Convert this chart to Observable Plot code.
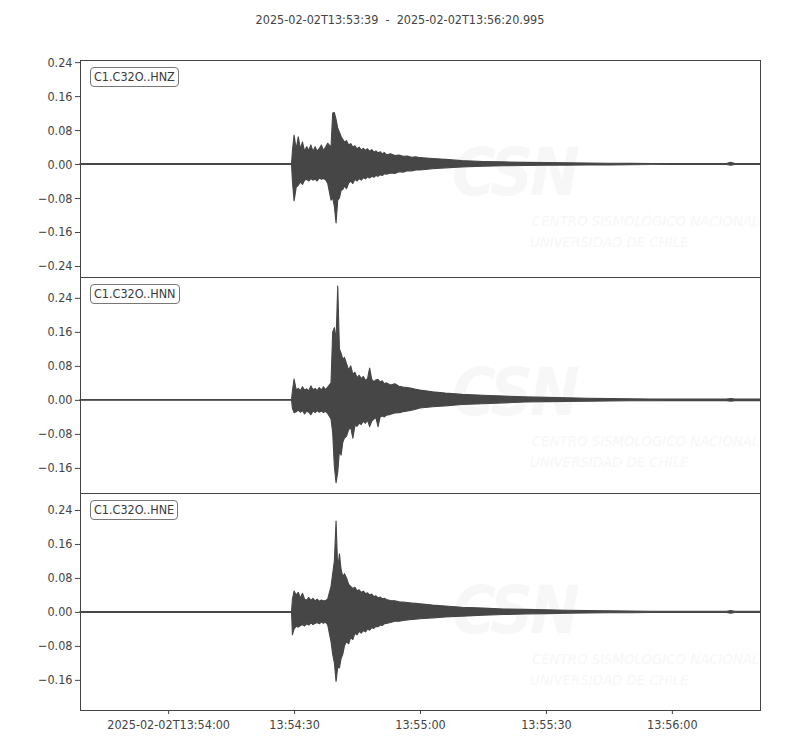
<!DOCTYPE html>
<html>
<head>
<meta charset="utf-8">
<script src="https://cdn.jsdelivr.net/npm/d3@7"></script>
<script src="https://cdn.jsdelivr.net/npm/@observablehq/plot@0.6"></script>
<style>
  html, body { margin: 0; padding: 0; background: white; }
  #wrap { position: relative; width: 800px; height: 750px; overflow: hidden; font-family: "DejaVu Sans Condensed", "DejaVu Sans", sans-serif; }
  #title { position: absolute; top: 12px; left: 0; width: 800px; text-align: center; font-size: 12.5px; color: #444; white-space: pre; }
  .panel { position: absolute; left: 0; z-index: 1; overflow: visible; }
  .label { position: absolute; left: 90px; z-index: 2; font-size: 12.5px; color: #3a3a3a; border: 1px solid #777; border-radius: 4px; padding: 1px 3px 1px 3px; background: white; line-height: 16px; }
  .wm { position: absolute; z-index: 0; color: #f7f7f7; font-style: italic; white-space: nowrap; }
  .wm-csn { font-size: 66px; font-weight: bold; letter-spacing: -3px; left: 452px; }
  .wm-l1 { font-size: 14.8px; left: 532px; }
  .wm-l2 { font-size: 14.8px; left: 530px; }
</style>
</head>
<body>
<div id="wrap">
  <div id="title">2025-02-02T13:53:39  -  2025-02-02T13:56:20.995</div>
</div>
<script>
const startTime = "2025-02-02T13:53:39Z";
const endTime = "2025-02-02T13:56:20.995Z";
const refTime = "2025-02-02T13:54:00Z";
const channels = ["C1.C32O..HNZ", "C1.C32O..HNN", "C1.C32O..HNE"];

// seconds relative to 2025-02-02T13:54:00 UTC
const times = [-21, 29.4, 29.6, 30.0, 30.5, 31.0, 31.5, 32.0, 32.5, 33.0,
  33.5, 34.0, 34.5, 35.0, 35.5, 36.0, 36.5, 37.0, 37.5, 38.0,
  38.8, 39.2, 39.6, 40.0, 40.4, 40.8, 41.2, 41.6, 42.0, 42.5,
  43.0, 43.5, 44.0, 44.5, 45.0, 45.5, 46.0, 46.5, 47.0, 47.5,
  48.0, 48.5, 49.0, 49.5, 50.0, 50.5, 51.0, 51.5, 52.0, 53.0,
  54.0, 55.0, 56.0, 57.0, 58.0, 59.0, 60.0, 63.0, 66.0, 70.0,
  75.0, 80.0, 85.0, 90.0, 95.0, 100.0, 105.0, 110.0, 115.0, 120.0,
  125.0, 130.0, 133.0, 134.0, 135.0, 140.0, 140.995];

// Envelopes (max / min per time) of each trace
const hnzUp = [0.001, 0.001, 0.030, 0.068, 0.035, 0.064, 0.036, 0.052, 0.030, 0.041,
  0.032, 0.045, 0.030, 0.041, 0.031, 0.036, 0.045, 0.032, 0.040, 0.049,
  0.040, 0.120, 0.121, 0.105, 0.085, 0.075, 0.065, 0.058, 0.052, 0.055,
  0.045, 0.048, 0.040, 0.043, 0.036, 0.040, 0.033, 0.037, 0.032, 0.036,
  0.030, 0.034, 0.028, 0.031, 0.026, 0.029, 0.024, 0.027, 0.022, 0.024,
  0.020, 0.021, 0.018, 0.019, 0.016, 0.017, 0.015, 0.013, 0.011, 0.008,
  0.006, 0.005, 0.004, 0.0035, 0.003, 0.0025, 0.002, 0.0015, 0.0012, 0.001,
  0.001, 0.001, 0.001, 0.004, 0.001, 0.001, 0.001];
const hnzLo = [-0.001, -0.001, -0.040, -0.087, -0.055, -0.050, -0.042, -0.048, -0.038, -0.036,
  -0.040, -0.034, -0.038, -0.035, -0.040, -0.033, -0.036, -0.034, -0.037, -0.045,
  -0.085, -0.080, -0.100, -0.139, -0.085, -0.080, -0.062, -0.060, -0.052, -0.058,
  -0.045, -0.040, -0.046, -0.036, -0.040, -0.034, -0.038, -0.032, -0.035, -0.030,
  -0.033, -0.029, -0.031, -0.027, -0.029, -0.025, -0.027, -0.023, -0.024, -0.021,
  -0.022, -0.018, -0.019, -0.016, -0.016, -0.014, -0.014, -0.011, -0.009, -0.007,
  -0.005, -0.004, -0.0035, -0.003, -0.0025, -0.002, -0.002, -0.0015, -0.0012, -0.001,
  -0.001, -0.001, -0.001, -0.003, -0.001, -0.001, -0.001];

const hnnUp = [0.001, 0.001, 0.020, 0.049, 0.024, 0.027, 0.022, 0.031, 0.023, 0.026,
  0.021, 0.033, 0.024, 0.027, 0.022, 0.029, 0.023, 0.031, 0.024, 0.030,
  0.040, 0.160, 0.170, 0.140, 0.268, 0.120, 0.110, 0.095, 0.100, 0.085,
  0.070, 0.080, 0.060, 0.065, 0.052, 0.058, 0.050, 0.055, 0.046, 0.050,
  0.075, 0.048, 0.043, 0.047, 0.048, 0.042, 0.045, 0.038, 0.040, 0.035,
  0.038, 0.032, 0.030, 0.029, 0.027, 0.025, 0.023, 0.019, 0.016, 0.013,
  0.011, 0.009, 0.007, 0.006, 0.005, 0.004, 0.003, 0.0025, 0.002, 0.0018,
  0.0018, 0.0018, 0.0018, 0.003, 0.0018, 0.0018, 0.0018];
const hnnLo = [-0.001, -0.001, -0.020, -0.030, -0.028, -0.024, -0.029, -0.025, -0.033, -0.026,
  -0.029, -0.035, -0.026, -0.030, -0.025, -0.029, -0.026, -0.030, -0.027, -0.032,
  -0.045, -0.078, -0.157, -0.195, -0.170, -0.120, -0.130, -0.100, -0.090, -0.085,
  -0.070, -0.065, -0.090, -0.060, -0.062, -0.055, -0.058, -0.050, -0.055, -0.048,
  -0.063, -0.050, -0.045, -0.042, -0.063, -0.040, -0.038, -0.040, -0.036, -0.034,
  -0.031, -0.030, -0.028, -0.026, -0.024, -0.022, -0.019, -0.016, -0.014, -0.011,
  -0.009, -0.007, -0.005, -0.004, -0.0035, -0.003, -0.0025, -0.002, -0.002, -0.0018,
  -0.0018, -0.0018, -0.0018, -0.003, -0.0018, -0.0018, -0.0018];

const hneUp = [0.001, 0.001, 0.030, 0.049, 0.040, 0.046, 0.033, 0.044, 0.030, 0.028,
  0.034, 0.027, 0.032, 0.026, 0.030, 0.025, 0.028, 0.026, 0.027, 0.030,
  0.060, 0.090, 0.120, 0.214, 0.100, 0.137, 0.100, 0.083, 0.090, 0.080,
  0.065, 0.060, 0.055, 0.058, 0.050, 0.052, 0.046, 0.049, 0.043, 0.045,
  0.040, 0.042, 0.036, 0.038, 0.033, 0.035, 0.031, 0.032, 0.029, 0.027,
  0.026, 0.024, 0.023, 0.022, 0.021, 0.020, 0.019, 0.016, 0.014, 0.011,
  0.009, 0.007, 0.006, 0.005, 0.004, 0.003, 0.0025, 0.002, 0.0015, 0.0015,
  0.0015, 0.0015, 0.0015, 0.003, 0.0015, 0.0015, 0.0015];
const hneLo = [-0.001, -0.001, -0.054, -0.040, -0.034, -0.036, -0.032, -0.030, -0.033, -0.028,
  -0.031, -0.026, -0.030, -0.027, -0.025, -0.028, -0.024, -0.027, -0.024, -0.030,
  -0.070, -0.100, -0.120, -0.164, -0.130, -0.132, -0.110, -0.100, -0.080, -0.070,
  -0.075, -0.060, -0.065, -0.050, -0.054, -0.046, -0.050, -0.044, -0.047, -0.040,
  -0.043, -0.037, -0.039, -0.034, -0.035, -0.031, -0.032, -0.028, -0.027, -0.025,
  -0.022, -0.022, -0.020, -0.019, -0.018, -0.017, -0.016, -0.014, -0.012, -0.010,
  -0.008, -0.006, -0.005, -0.004, -0.003, -0.0025, -0.002, -0.002, -0.0015, -0.0015,
  -0.0015, -0.0015, -0.0015, -0.003, -0.0015, -0.0015, -0.0015];

const yDomains = [[-0.266, 0.245], [-0.219, 0.289], [-0.231, 0.280]];
const yTicks = [
  [-0.24, -0.16, -0.08, 0, 0.08, 0.16, 0.24],
  [-0.16, -0.08, 0, 0.08, 0.16, 0.24],
  [-0.16, -0.08, 0, 0.08, 0.16, 0.24]
];
const xTickTimes = ["2025-02-02T13:54:00Z", "2025-02-02T13:54:30Z", "2025-02-02T13:55:00Z", "2025-02-02T13:55:30Z", "2025-02-02T13:56:00Z"];

const ups = [hnzUp, hnnUp, hneUp];
const los = [hnzLo, hnnLo, hneLo];

const ref = new Date(refTime).getTime();
const wrap = document.getElementById("wrap");
const tops = [50, 277, 493];
const heights = [227, 216, 257];
const mTop = [10, 0, 0];
const ink = "#464646";
const fmtY = d => (d < 0 ? "\u2212" : "") + Math.abs(d).toFixed(2);
const fmtX = (d, i) => i === 0 ? d3.utcFormat("%Y-%m-%dT%H:%M:%S")(d) : d3.utcFormat("%H:%M:%S")(d);
const frameTops = [60, 277, 493];

channels.forEach((ch, k) => {
  const rows = times.map((t, i) => ({date: new Date(ref + t * 1000), up: ups[k][i], lo: los[k][i]}));
  const last = k === 2;
  const chart = Plot.plot({
    width: 800,
    height: heights[k],
    marginLeft: 80,
    marginRight: 40,
    marginTop: mTop[k],
    marginBottom: last ? 40 : 0,
    style: {background: "transparent", overflow: "visible", fontFamily: "'DejaVu Sans Condensed', 'DejaVu Sans', sans-serif", fontSize: "12.5px", color: "#444"},
    x: {type: "utc", domain: [new Date(startTime), new Date(endTime)], ticks: xTickTimes.map(s => new Date(s)), tickFormat: fmtX, tickSize: 4, tickPadding: 6, label: null, axis: last ? "bottom" : null},
    y: {domain: yDomains[k], ticks: yTicks[k], tickFormat: fmtY, tickSize: 5, tickPadding: 3, label: null},
    marks: [
      Plot.areaY(rows, {x: "date", y1: "lo", y2: "up", fill: ink, stroke: ink, strokeWidth: 1.1}),
      Plot.frame({stroke: "#444", strokeWidth: 1})
    ]
  });
  chart.classList.add("panel");
  chart.style.top = tops[k] + "px";
  wrap.appendChild(chart);

  const lab = document.createElement("div");
  lab.className = "label";
  lab.style.top = (frameTops[k] + 7) + "px";
  lab.textContent = ch;
  wrap.appendChild(lab);

  const base = [60, 280, 498][k];
  const csn = document.createElement("div");
  csn.className = "wm wm-csn";
  csn.style.top = (base + 74) + "px";
  csn.textContent = "CSN";
  wrap.appendChild(csn);
  const l1 = document.createElement("div");
  l1.className = "wm wm-l1";
  l1.style.top = (base + 152) + "px";
  l1.textContent = "CENTRO SISMOLÓGICO NACIONAL";
  wrap.appendChild(l1);
  const l2 = document.createElement("div");
  l2.className = "wm wm-l2";
  l2.style.top = (base + 173) + "px";
  l2.textContent = "UNIVERSIDAD DE CHILE";
  wrap.appendChild(l2);
});
</script>
</body>
</html>
